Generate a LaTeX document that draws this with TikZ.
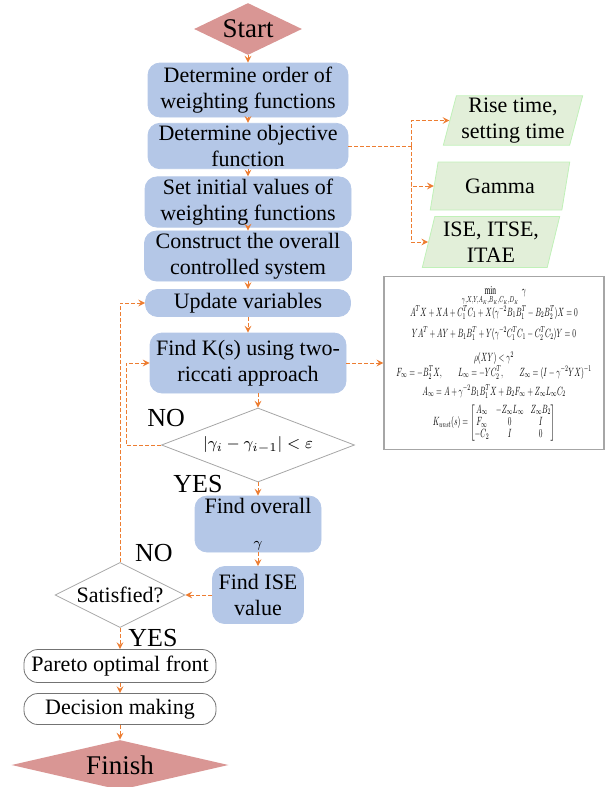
\documentclass[tikz,border=0pt]{standalone}
\usepackage{amsmath}
\usepackage{amssymb}
\usepackage{xcolor}
\usepackage{fontspec}
\setmainfont{Liberation Serif}
\usepackage{tikz}
\usetikzlibrary{shapes.geometric,positioning,arrows}

\definecolor{procblue}{HTML}{B4C7E7}
\definecolor{termred}{HTML}{D99694}
\definecolor{iogreen}{HTML}{E2EFD9}
\definecolor{flowline}{HTML}{ED7D31}

\begin{document}
\begin{tikzpicture}[on grid, node distance=28pt, font=\fontsize{11}{13}\selectfont,
    proc/.style={rectangle, rounded corners=6pt, fill=procblue, draw=procblue, align=center, inner sep=1pt, minimum width=100pt},
    term/.style={diamond, fill=termred, inner sep=0pt, font=\fontsize{13.5}{15}\selectfont},
    test/.style={diamond, draw=black!35, inner sep=0pt},
    outbox/.style={rectangle, rounded corners=7pt, draw=black!55, inner sep=1pt, minimum width=96pt},
    io/.style={trapezium, trapezium left angle=76, trapezium right angle=104, trapezium stretches=true, fill=iogreen, draw=iogreen!85!green, align=center, inner sep=1pt},
    link/.style={color=flowline, line width=0.5pt, dash pattern=on 2pt off 1pt},
    flow/.style={link, ->, >=stealth},
    lbl/.style={font=\fontsize{13}{15}\selectfont}]
        \useasboundingbox (0,0) rectangle (303.5pt,-393.5pt);
        \node[term, aspect=2.08, minimum width=54pt, minimum height=26pt]   (start) at (124pt,-14.5pt) {Start};
        \node[proc, minimum height=27pt]  (b1) [below=30.5pt of start] {Determine order of\\weighting functions};
        \node[proc, minimum height=22pt]  (b2) [below=of b1]           {Determine objective\\function};
        \node[proc, minimum height=25pt, minimum width=103pt] (b3) [below=of b2] {Set initial values of\\weighting functions};
        \node[proc, minimum height=21.5pt, minimum width=103.5pt] (b4) [below=27pt of b3] {Construct the overall\\controlled system};
        \node[proc, minimum height=13.5pt, minimum width=102.5pt] (b5) [below=23.5pt of b4] {Update variables};
        \node[proc, minimum height=30pt, minimum width=98pt] (b6) [below=30pt of b5] {Find K(s) using two-\\riccati approach};
        \node[test, aspect=2.6, minimum width=96.5pt, minimum height=37pt] (d1) [below right=41pt and 5pt of b6] {\footnotesize$|\gamma_i-\gamma_{i-1}|<\varepsilon$};
        \node[proc, minimum height=26pt, minimum width=63pt] (gam) [below=39.5pt of d1] {Find overall\\[4pt]{\scriptsize$\gamma$}};
        \node[proc, minimum height=28.5pt, minimum width=45.5pt] (ise) [below=35.5pt of gam] {Find ISE\\value};
        \node[test, aspect=2, minimum width=65pt, minimum height=32.5pt] (sat) [left=69pt of ise] {Satisfied?};
        \node[outbox, minimum height=16.5pt] (par) [below=35.5pt of sat] {Pareto optimal front};
        \node[outbox, minimum height=15.5pt] (dec) [below=21.5pt of par] {Decision making};
        \node[term, aspect=4.34, minimum width=108.5pt, minimum height=25pt] (fin) [below=28pt of dec] {Finish};

        % objective choices
        \node[io, minimum width=70pt, minimum height=24pt] (p2) [below right=20pt and 126pt of b2] {Gamma};
        \node[io, minimum width=70pt, minimum height=22.5pt] (p1) [above=32.75pt of p2, xshift=6.5pt] {Rise time,\\setting time};
        \node[io, minimum width=69pt, minimum height=25.5pt] (p3) [below=28pt of p2, xshift=-4.5pt] {ISE, ITSE,\\ITAE};
        \coordinate[right=81.5pt of b2] (tr);

        % riccati equations
        \node[draw=black!35, line width=0.7pt, minimum width=110pt, minimum height=86.5pt, inner sep=0pt] (eq) [right=123pt of b6]
          {\resizebox*{101pt}{78pt}{$\begin{array}{c}
            \min\limits_{\gamma,X,Y,A_K,B_K,C_K,D_K}\ \gamma\\[5pt]
            A^TX+XA+C_1^TC_1+X(\gamma^{-2}B_1B_1^T-B_2B_2^T)X=0\\[6pt]
            YA^T+AY+B_1B_1^T+Y(\gamma^{-2}C_1^TC_1-C_2^TC_2)Y=0\\[9pt]
            \rho(XY)<\gamma^2\\
            F_\infty=-B_2^TX,\qquad L_\infty=-YC_2^T,\qquad Z_\infty=(I-\gamma^{-2}YX)^{-1}\\[4pt]
            A_\infty=A+\gamma^{-2}B_1B_1^TX+B_2F_\infty+Z_\infty L_\infty C_2\\[5pt]
            {\def\arraystretch{0.85}K_{unst}(s)=\begin{bmatrix} A_\infty & -Z_\infty L_\infty & Z_\infty B_2\\ F_\infty & 0 & I\\ -C_2 & I & 0\end{bmatrix}}
          \end{array}$}};

        \node[lbl] (no1)  at ([xshift=2.5pt,yshift=13.5pt]d1.west) {NO};
        \node[lbl] (yes1) at ([xshift=-30pt,yshift=-1pt]d1.south)  {YES};
        \node[lbl] (no2)  at ([xshift=17pt,yshift=4.5pt]sat.north) {NO};
        \node[lbl] (yes2) at ([xshift=16.5pt,yshift=-5pt]sat.south) {YES};

        \path[flow]
        (start) edge (b1)
        (b1) edge (b2)
        (b2) edge (b3)
        (b3) edge (b4)
        (b4) edge (b5)
        (b5) edge (b6)
        (b6.south -| d1.north) edge (d1.north)
        (d1) edge (gam)
        (gam) edge (ise)
        (ise) edge (sat)
        (sat) edge (par)
        (par) edge (dec)
        (dec) edge (fin)
        (b6) edge (eq);
        \draw[link] (b2.east) -- (tr);
        \draw[flow] (tr) |- (p1.west);
        \draw[flow] (tr) |- (p2.west);
        \draw[flow] (tr) |- (p3.west);
        \draw[flow] (d1.west) -- ++(-17.5pt,0) |- (b6.west);
        \draw[flow] (sat.north) |- (b5.west);
\end{tikzpicture}
\end{document}
